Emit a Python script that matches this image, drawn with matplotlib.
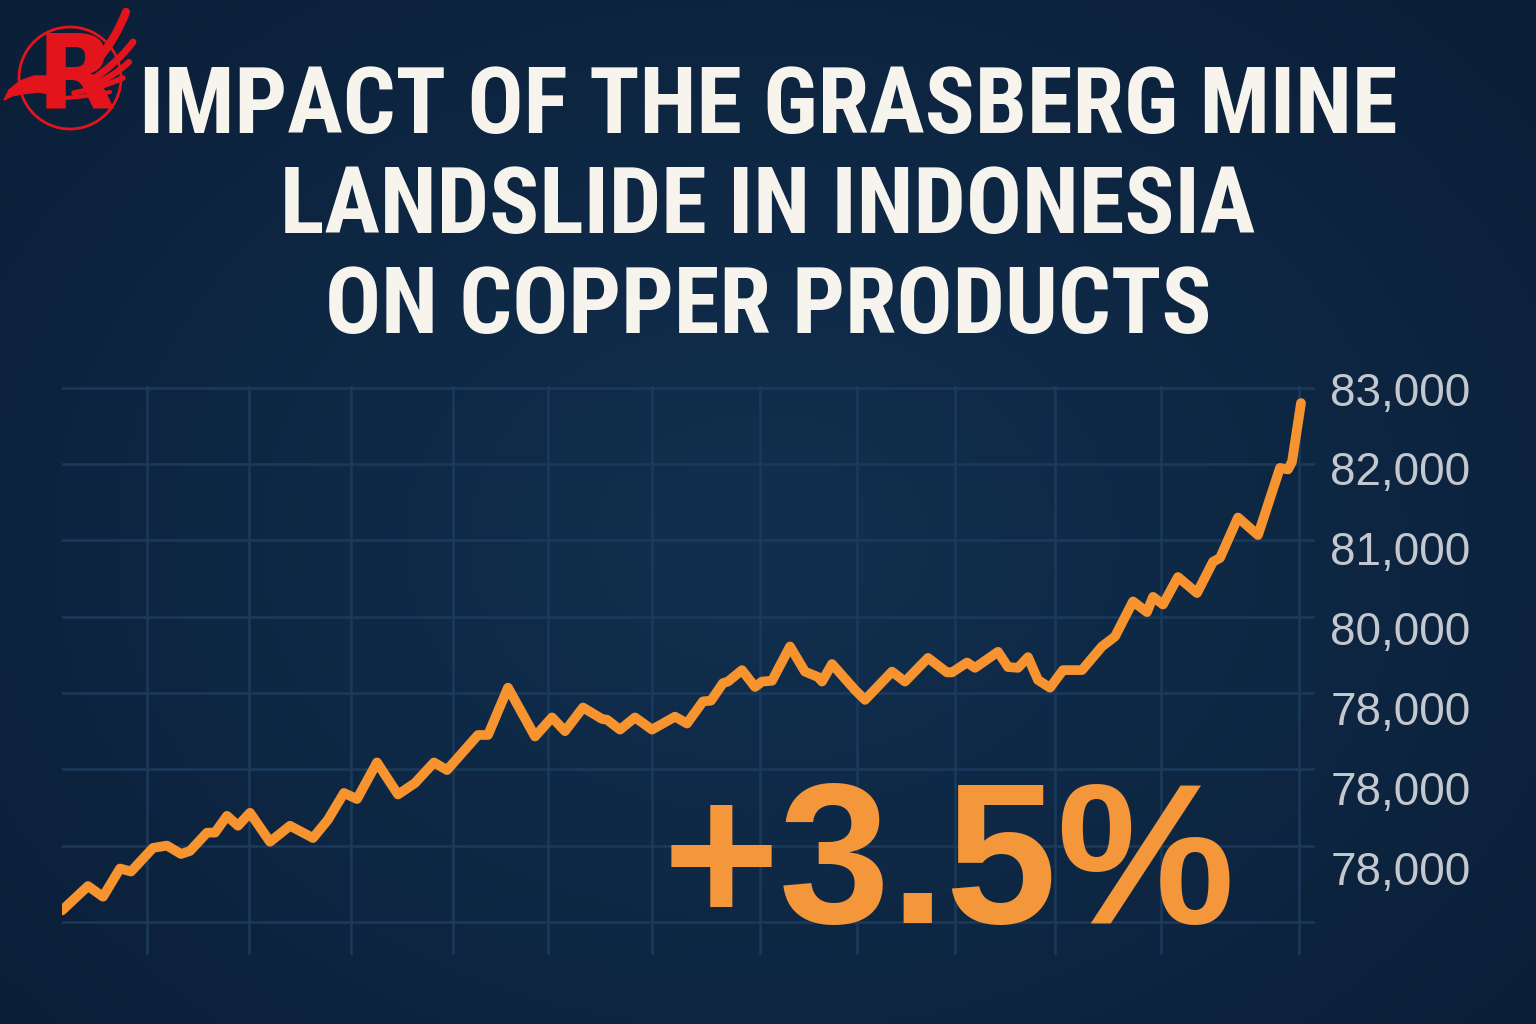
import numpy as np
import matplotlib
matplotlib.use("Agg")
import matplotlib.pyplot as plt
from matplotlib import font_manager as fm
from matplotlib.patches import Circle, Polygon, Rectangle
from matplotlib.ticker import FixedLocator, FixedFormatter

# ---- data ----
title_lines = ["IMPACT OF THE GRASBERG MINE", "LANDSLIDE IN INDONESIA", "ON COPPER PRODUCTS"]
change_label = "+3.5%"

day = [0, 2.6, 4.1, 5.8, 6.9, 9.1, 10.5, 11.9, 12.8, 14.5, 15.3, 16.5, 17.6, 18.8,
       20.8, 22.8, 25.1, 26.6, 28.2, 29.5, 31.5, 33.6, 35.3, 37.2, 38.5, 41.6, 42.6,
       44.6, 47.3, 49.0, 50.3, 52.1, 54.0, 54.5, 55.8, 57.3, 59.0, 61.3, 62.5, 64.1,
       64.9, 66.1, 66.6, 68.0, 69.3, 70.0, 71.0, 72.8, 74.3, 75.6, 76.0, 77.0, 79.3,
       80.3, 83.0, 84.3, 86.6, 88.5, 89.0, 90.5, 91.3, 93.6, 94.6, 95.6, 96.6, 97.6,
       98.8, 100.1, 102.0, 104.0, 105.3, 107.1, 108.5, 109.1, 110.1, 111.6, 113.5,
       115.1, 115.8, 117.6, 119.6, 121.8, 122.6, 123.0, 123.6, 123.9]
price = [76150, 76470, 76330, 76700, 76660, 76970, 77000, 76890, 76930, 77170, 77170,
         77390, 77260, 77430, 77050, 77260, 77100, 77340, 77690, 77610, 78090, 77670,
         77820, 78090, 77990, 78450, 78450, 79070, 78430, 78680, 78500, 78810, 78660,
         78650, 78520, 78680, 78520, 78690, 78600, 78890, 78900, 79130, 79150, 79300,
         79080, 79150, 79160, 79610, 79280, 79210, 79150, 79380, 79040, 78910, 79280,
         79150, 79460, 79270, 79270, 79400, 79330, 79540, 79340, 79330, 79470, 79170,
         79070, 79300, 79300, 79610, 79740, 80200, 80060, 80260, 80160, 80520, 80310,
         80720, 80770, 81300, 81070, 81950, 81930, 82030, 82540, 82800]

grid_days = [8.5, 18.7, 28.9, 39.1, 48.6, 59.0, 69.8, 79.5, 89.3, 99.3, 109.9, 123.7]
grid_prices = [76000, 77000, 78000, 79000, 80000, 81000, 82000, 83000]
label_prices = [77000, 78000, 79000, 80000, 81000, 82000, 83000]
label_text = ["78,000", "78,000", "78,000", "80,000", "81,000", "82,000", "83,000"]

# ---- colours ----
ORANGE = "#F7942F"
GRID = "#1b3a5b"
LABEL = "#C3C8CE"
TITLE = "#F7F4EE"
RED = "#E3141B"

W, H = 1536, 1024
fig = plt.figure(figsize=(W / 100, H / 100), dpi=100)

def fx(px):
    return px / W

def fy(py):
    return 1 - py / H

# background gradient
bg = fig.add_axes([0, 0, 1, 1], zorder=-10)
yy, xx = np.mgrid[0:H:2, 0:W:2]
r = np.sqrt(((xx - 760) / 1000) ** 2 + ((yy - 540) / 760) ** 2)
t = np.clip(r, 0, 1)[..., None]
c_center = np.array([17, 48, 80]) / 255
c_edge = np.array([11, 31, 56]) / 255
bg.imshow(c_center * (1 - t) + c_edge * t, aspect="auto", extent=[0, W, H, 0])
bg.axis("off")

# main chart
top_px, bot_px, left_px, right_px = 385.5, 955, 62, 1315
ax = fig.add_axes([fx(left_px), fy(bot_px), fx(right_px - left_px), (bot_px - top_px) / H])
ax.patch.set_alpha(0)
ax.plot(day, price, color=ORANGE, lw=7, solid_joinstyle="round",
        solid_capstyle="round", zorder=5)
ax.set_xlim(0, (right_px - left_px) / 10)
ax.set_ylim(83000 - (bot_px - 387.8) * 13.106, 83000 + (387.8 - top_px) * 13.106)
ax.set_xticks(grid_days)
ax.set_yticks(grid_prices)
ax.grid(True, color=GRID, lw=1.8)
ax.tick_params(length=0, labelleft=False, labelbottom=False)
for s in ax.spines.values():
    s.set_visible(False)

# right-hand value labels
ax2 = ax.twinx()
ax2.set_ylim(83000 - (bot_px - 388.5) * 12.516, 83000 + (388.5 - top_px) * 12.516)
ax2.yaxis.set_major_locator(FixedLocator(label_prices))
ax2.yaxis.set_major_formatter(FixedFormatter(label_text))
ax2.tick_params(length=0, pad=11, labelsize=33, labelcolor=LABEL)
for lab in ax2.get_yticklabels():
    lab.set_fontfamily("Liberation Sans")
for s in ax2.spines.values():
    s.set_visible(False)

# big change figure
fig.text(fx(949), fy(923), change_label, color="#F4963A", fontsize=144,
         fontweight="bold", family="Liberation Sans", ha="center", va="baseline")

# title in a condensed bold face if one is installed
def condensed_bold():
    best = None
    for f in fm.fontManager.ttflist:
        name = f.name + " " + f.fname
        st = f.stretch
        narrow = ("Condensed" in name or "Narrow" in name or
                  (isinstance(st, int) and st < 500) or
                  (isinstance(st, str) and "condensed" in st))
        w = f.weight if isinstance(f.weight, int) else fm.weight_dict.get(f.weight, 400)
        if narrow and w >= 600 and "Italic" not in f.fname and "Oblique" not in f.fname:
            score = 0 if "Roboto" in name else 1 if "Open" in name else 2 if "Liberation" in name else 3
            if best is None or score < best[0]:
                best = (score, f.fname)
    if best:
        return fm.FontProperties(fname=best[1])
    return fm.FontProperties(family="DejaVu Sans", weight="bold")

tprops = condensed_bold()
baselines = [133, 233, 333]
title_texts = []
for line, yb in zip(title_lines, baselines):
    tt = fig.text(fx(768), fy(yb), line, color=TITLE, fontproperties=tprops,
                  fontsize=72, ha="center", va="baseline")
    title_texts.append(tt)

renderer = fig.canvas.get_renderer()
w0 = title_texts[0].get_window_extent(renderer).width
size = min(72 * 1260 / w0, 82)
for tt in title_texts:
    tt.set_fontsize(size)

# logo (drawn in pixel coordinates)
lg = fig.add_axes([0, fy(140), fx(140), 140 / H])
lg.set_xlim(0, 140)
lg.set_ylim(140, 0)
lg.axis("off")
lg.add_patch(Circle((70, 78), 51, fill=False, ec=RED, lw=2))
lg.text(76, 80, "R", color=RED, fontsize=74, fontweight="bold",
        family="DejaVu Sans", ha="center", va="center")
# wing feathers as gently curved strokes
for (x0, y0, xm, ym, x1, y1, lw) in [(84, 74, 112, 48, 126, 12, 6),
                                     (92, 80, 118, 62, 133, 42, 5),
                                     (86, 88, 112, 78, 129, 62, 4.5),
                                     (74, 93, 100, 88, 123, 78, 4),
                                     (66, 98, 90, 96, 110, 92, 3)]:
    s = np.linspace(0, 1, 20)
    bx = (1 - s) ** 2 * x0 + 2 * (1 - s) * s * xm + s ** 2 * x1
    by = (1 - s) ** 2 * y0 + 2 * (1 - s) * s * ym + s ** 2 * y1
    lg.plot(bx, by, color=RED, lw=lw, solid_capstyle="round")
lg.add_patch(Polygon([(4, 100), (9, 90), (20, 81), (34, 76), (50, 76), (62, 84),
                      (56, 95), (38, 92), (22, 94), (12, 96)], closed=True, color=RED))
lg.add_patch(Rectangle((47, 100), 12, 10, color="#241c1c"))

fig.savefig("out.png", dpi=100)
